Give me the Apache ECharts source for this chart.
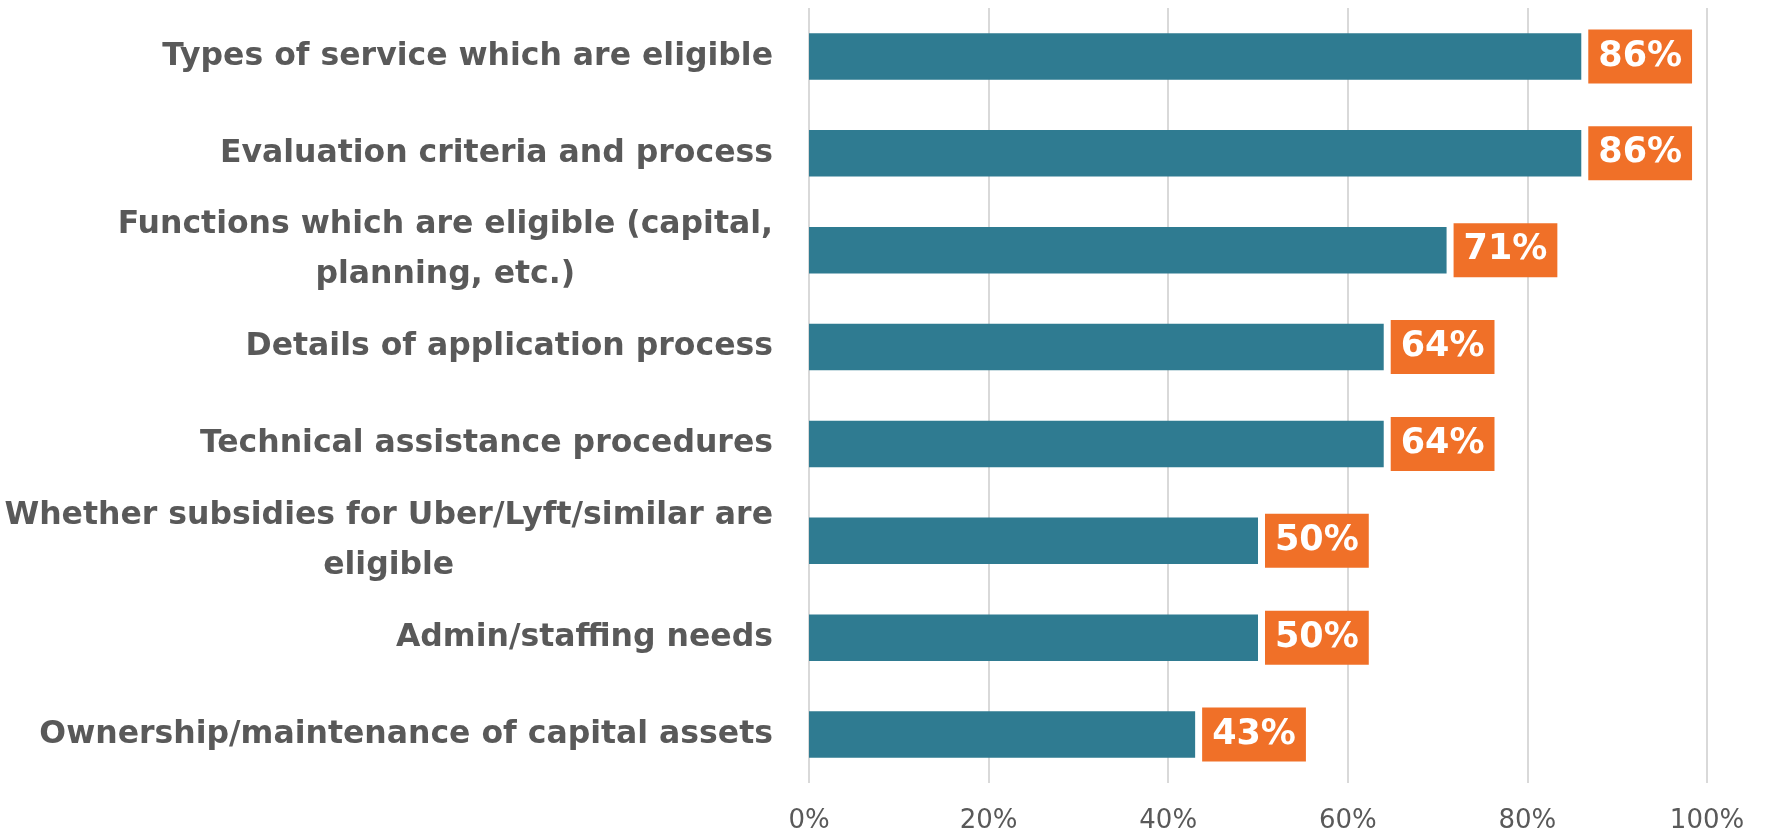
<!DOCTYPE html>
<html>
<head>
<meta charset="utf-8">
<script src="https://cdn.jsdelivr.net/npm/echarts@6/dist/echarts.min.js"></script>
<style>
html,body{margin:0;padding:0;background:#fff;}
#c{width:1768px;height:840px;}
</style>
</head>
<body>
<div id="c"></div>
<script>
const categories = [
  "Types of service which are eligible",
  "Evaluation criteria and process",
  "Functions which are eligible (capital,\nplanning, etc.)",
  "Details of application process",
  "Technical assistance procedures",
  "Whether subsidies for Uber/Lyft/similar are\neligible",
  "Admin/staffing needs",
  "Ownership/maintenance of capital assets"
];
const values = [0.86, 0.86, 0.71, 0.64, 0.64, 0.50, 0.50, 0.43];
const tickValues = [0, 0.2, 0.4, 0.6, 0.8, 1.0];

const FONT = '"DejaVu Sans", sans-serif';
const chart = echarts.init(document.getElementById('c'));
chart.setOption({
  animation: false,
  grid: { left: 809, right: 61, top: 8, bottom: 57, containLabel: false, outerBoundsMode: 'none' },
  xAxis: {
    type: 'value', min: tickValues[0], max: tickValues[tickValues.length - 1], interval: 0.2,
    axisLine: { show: false }, axisTick: { show: false },
    splitLine: { show: true, lineStyle: { color: '#d9d9d9', width: 2 } },
    axisLabel: {
      formatter: v => Math.round(v * 100) + '%',
      color: '#595959', fontSize: 26, fontFamily: FONT, margin: 25
    }
  },
  yAxis: {
    type: 'category', inverse: true, data: categories,
    axisLine: { show: false }, axisTick: { show: false },
    axisLabel: {
      align: 'right', margin: 36,
      formatter: v => v.split('\n').map(s => '{c|' + s + '}').join('\n'),
      rich: {
        c: {
          align: 'center', color: '#595959', fontSize: 31.5, fontWeight: 'bold',
          fontFamily: FONT, lineHeight: 50
        }
      }
    }
  },
  series: [{
    type: 'bar', data: values, barWidth: '48%',
    itemStyle: { color: '#2f7b91' },
    label: {
      show: true, position: 'right', distance: 7,
      formatter: p => Math.round(p.value * 100) + '%',
      color: '#fff', fontSize: 35, fontWeight: 'bold', fontFamily: FONT,
      lineHeight: 40,
      backgroundColor: '#f07028', padding: [8, 10, 6, 10]
    }
  }]
});
</script>
</body>
</html>
